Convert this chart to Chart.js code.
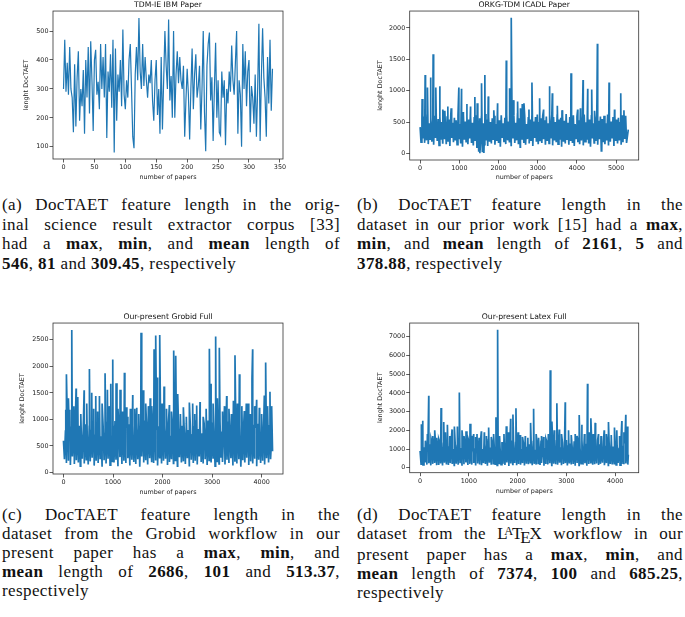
<!DOCTYPE html>
<html>
<head>
<meta charset="utf-8">
<script src="https://cdn.jsdelivr.net/npm/chart.js@4.4.1/dist/chart.umd.min.js"></script>
<style>
  body { margin: 0; background: #fff; width: 685px; height: 617px; position: relative; overflow: hidden; }
  canvas { position: absolute; }
  .cap { position: absolute; font-family: "Liberation Serif", "DejaVu Serif", serif; font-size: 17px; letter-spacing: 0.4px; color: #111; }
  .cap div { text-align: justify; text-align-last: justify; }
  .cap div.last { text-align-last: left; }
  .la { font-size: 0.72em; position: relative; top: -0.3em; margin-left: -0.32em; margin-right: -0.12em; }
  .te { position: relative; top: 0.22em; margin-left: -0.14em; margin-right: -0.1em; }
</style>
</head>
<body>
<canvas id="ca" width="342" height="185" style="left:0;top:0"></canvas>
<canvas id="cb" width="343" height="185" style="left:342px;top:0"></canvas>
<canvas id="cc" width="342" height="200" style="left:0;top:300px"></canvas>
<canvas id="cd" width="343" height="199" style="left:342px;top:300px"></canvas>

<div class="cap" style="left:2px;top:195px;width:338px;line-height:19.6px">
  <div>(a) DocTAET feature length in the orig-</div>
  <div>inal science result extractor corpus [33]</div>
  <div>had a <b>max</b>, <b>min</b>, and <b>mean</b> length of</div>
  <div class="last"><b>546</b>, <b>81</b> and <b>309.45</b>, respectively</div>
</div>
<div class="cap" style="left:357px;top:195px;width:326px;line-height:19.6px">
  <div>(b) DocTAET feature length in the</div>
  <div>dataset in our prior work [15] had a <b>max</b>,</div>
  <div><b>min</b>, and <b>mean</b> length of <b>2161</b>, <b>5</b> and</div>
  <div class="last"><b>378.88</b>, respectively</div>
</div>
<div class="cap" style="left:2px;top:505px;width:338px;line-height:19px">
  <div>(c) DocTAET feature length in the</div>
  <div>dataset from the Grobid workflow in our</div>
  <div>present paper has a <b>max</b>, <b>min</b>, and</div>
  <div><b>mean</b> length of <b>2686</b>, <b>101</b> and <b>513.37</b>,</div>
  <div class="last">respectively</div>
</div>
<div class="cap" style="left:357px;top:505px;width:326px;line-height:19px">
  <div>(d) DocTAET feature length in the</div>
  <div>dataset from the L<span class="la">A</span>T<span class="te">E</span>X workflow in our</div>
  <div>present paper has a <b>max</b>, <b>min</b>, and</div>
  <div><b>mean</b> length of <b>7374</b>, <b>100</b> and <b>685.25</b>,</div>
  <div class="last">respectively</div>
</div>

<script>
// (a) TDM-IE IBM paper, one value every 2 papers
const ibmStep = 2;
const ibmLengths = [
  300, 470, 290, 390, 280, 445, 300, 270, 150, 385, 170, 340, 430, 190, 300, 240, 365, 145, 400, 270,
  445, 215, 465, 330, 155, 400, 435, 280, 325, 230, 455, 300, 410, 270, 455, 130, 360, 290, 420, 235,
  470, 80, 440, 190, 350, 290, 400, 240, 505, 280, 230, 330, 270, 400, 455, 300, 135, 95, 350, 445,
  330, 545, 360, 300, 455, 310, 410, 330, 270, 350, 320, 400, 260, 190, 330, 400, 210, 300, 145, 410,
  160, 330, 500, 380, 300, 540, 260, 345, 200, 500, 200, 350, 430, 320, 410, 330, 300, 380, 135, 260,
  370, 280, 125, 300, 440, 230, 350, 420, 270, 310, 380, 160, 300, 500, 220, 85, 380, 455, 495, 260,
  340, 120, 300, 460, 200, 330, 150, 140, 360, 270, 330, 105, 300, 250, 360, 290, 450, 330, 280, 390,
  500, 145, 330, 280, 100, 455, 300, 430, 240, 360, 400, 150, 310, 270, 180, 350, 135, 300, 525, 120,
  340, 510, 340, 270, 135, 410, 250, 470, 225, 370
];

// (b) ORKG-TDM ICADL paper: dense band every 23 papers + the visible spikes
const icadlStep = 23;
const icadlBand = [
  420, 180, 560, 240, 590, 170, 520, 210, 610, 150, 480, 230, 570, 190, 530, 140, 600, 260, 470, 200,
  550, 130, 590, 220, 500, 170, 620, 240, 460, 150, 580, 200, 540, 120, 610, 250, 490, 180, 570, 210,
  530, 140, 600, 230, 470, 160, 560, 110, 620, 220, 510, 190, 580, 150, 540, 240, 600, 170, 490, 130,
  570, 200, 610, 90, 520, 30, 560, 160, 590, 20, 480, 140, 630, 210, 540, 120, 580, 190, 500, 160,
  560, 230, 600, 140, 470, 200, 590, 170, 530, 110, 610, 250, 480, 180, 570, 150, 620, 210, 510, 190,
  580, 130, 540, 240, 600, 170, 490, 210, 630, 150, 560, 100, 590, 220, 520, 180, 610, 140, 470, 230,
  570, 160, 540, 200, 600, 120, 510, 250, 580, 190, 620, 150, 490, 210, 560, 170, 600, 230, 530, 140,
  590, 200, 480, 160, 620, 240, 550, 130, 580, 210, 500, 180, 610, 150, 540, 220, 570, 110, 600, 190,
  520, 160, 630, 230, 490, 140, 580, 200, 550, 170, 610, 120, 470, 240, 590, 180, 530, 150, 600, 210,
  560, 130, 620, 190, 500, 220, 580, 160, 540, 110, 600, 240, 480, 170, 570, 200, 610, 140, 520, 230,
  590, 40, 550, 180, 600, 150, 480, 210, 620, 130, 560, 190, 510, 240, 580, 120, 600, 200, 540, 160,
  570, 210, 490, 140, 610, 180, 550, 230, 600, 170
];
const icadlSpikes = [
  [51, 870], [128, 1250], [187, 1050], [264, 1210], [332, 1580], [400, 1050], [502, 1070], [579, 700],
  [630, 680], [707, 750], [792, 720], [988, 1050], [1056, 1030], [1100, 660], [1192, 790], [1286, 750],
  [1397, 900], [1457, 800], [1525, 5], [1567, 1120], [1627, 10], [1652, 1250], [1738, 910], [1880, 690],
  [1976, 800], [2198, 1480], [2283, 1040], [2325, 2161], [2376, 850], [2487, 830], [2560, 720], [2606, 790],
  [2649, 800], [2777, 700], [2853, 1130], [3049, 880], [3150, 700], [3296, 1070], [3373, 960], [3501, 760],
  [3620, 690], [3850, 1280], [4020, 700], [4090, 720], [4157, 1170], [4276, 1030], [4378, 1020], [4450, 680],
  [4523, 1750], [4634, 50], [4821, 1130], [4960, 700], [5119, 960], [5200, 690], [5311, 380]
];

// (c) Our-present Grobid full
const grobidStep = 20;
const grobidBand = [
  600, 250, 780, 180, 900, 220, 700, 140, 850, 300, 680, 160, 940, 230, 760, 190, 880, 120, 720, 260,
  830, 170, 910, 240, 650, 150, 870, 210, 790, 280, 960, 130, 700, 220, 850, 180, 920, 250, 680, 110,
  890, 230, 760, 170, 940, 260, 820, 140, 700, 210, 880, 190, 970, 240, 740, 120, 860, 290, 800, 160,
  930, 220, 690, 180, 850, 270, 910, 130, 770, 240, 880, 200, 720, 160, 950, 250, 830, 110, 900, 300,
  760, 190, 980, 230, 840, 150, 920, 270, 710, 210, 890, 180, 960, 240, 800, 130, 870, 280, 940, 170,
  730, 220, 900, 260, 820, 140, 950, 200, 690, 250, 870, 170, 910, 230, 780, 120, 960, 290, 840, 190,
  880, 210, 750, 160, 930, 270, 800, 130, 900, 240, 710, 180, 860, 220, 970, 150, 820, 300, 890, 200,
  740, 170, 920, 250, 860, 140, 980, 230, 790, 190, 940, 260, 700, 120, 880, 210, 830, 160, 950, 280,
  770, 200, 900, 150, 850, 240, 960, 180, 720, 270, 890, 130, 930, 220, 800, 170, 870, 250, 910, 110,
  690, 230, 940, 190, 820, 280, 880, 140, 960, 210, 750, 170, 900, 260, 840, 120, 920, 240, 780, 180,
  950, 220, 860, 150, 900, 270, 730, 190, 880, 250, 620
];
const grobidSpikes = [
  [47, 1180], [60, 1850], [100, 1400], [128, 1180], [168, 2686], [210, 1250], [255, 1580], [289, 1420],
  [350, 1100], [417, 1550], [470, 1300], [524, 1950], [571, 1500], [610, 1200], [652, 1440], [690, 1150],
  [726, 1440], [780, 1300], [840, 1870], [887, 1560], [920, 1250], [955, 1670], [995, 2130], [1062, 1680],
  [1100, 1200], [1143, 1560], [1190, 1150], [1230, 1880], [1264, 1230], [1297, 1050], [1350, 1200], [1398, 1460],
  [1440, 1200], [1479, 1220], [1520, 1100], [1566, 2630], [1613, 1550], [1660, 1300], [1714, 1250], [1750, 1400],
  [1782, 1250], [1829, 2320], [1862, 2580], [1896, 1790], [1943, 2590], [1990, 1300], [2030, 1620], [2080, 1200],
  [2138, 1270], [2180, 1150], [2225, 2300], [2266, 2200], [2306, 1480], [2360, 1100], [2420, 1230], [2480, 1050],
  [2541, 1320], [2608, 1300], [2650, 1100], [2689, 1260], [2756, 1330], [2820, 1050], [2880, 1200], [2945, 2330],
  [2978, 1670], [3020, 1300], [3072, 2560], [3106, 1400], [3146, 2350], [3200, 1150], [3250, 1250], [3294, 1440],
  [3340, 1200], [3390, 1100], [3430, 1350], [3462, 2210], [3510, 1300], [3550, 1850], [3600, 1250], [3650, 1160],
  [3690, 1300], [3731, 1300], [3770, 1100], [3805, 1770], [3818, 2320], [3860, 1250], [3899, 1370], [3953, 1220],
  [4000, 1100], [4054, 1450], [4081, 2070], [4120, 1250], [4168, 1520], [4202, 1250], [4220, 400]
];

// (d) Our-present Latex full
const latexStep = 20;
const latexBand = [
  900, 200, 1300, 150, 1100, 280, 1450, 170, 1000, 240, 1250, 130, 1380, 210, 950, 260, 1200, 140, 1050, 190,
  1400, 230, 1150, 120, 1300, 270, 980, 180, 1350, 150, 1100, 250, 1450, 200, 1000, 130, 1280, 220, 1180, 160,
  1500, 240, 1050, 110, 1320, 190, 1200, 280, 970, 150, 1420, 210, 1130, 170, 1250, 260, 1040, 120, 1380, 230,
  1160, 180, 1450, 140, 1000, 250, 1300, 200, 1220, 110, 1500, 270, 1080, 160, 1350, 220, 1150, 190, 1420, 130,
  1250, 240, 1050, 170, 1380, 210, 1480, 150, 1120, 280, 1300, 100, 1200, 230, 1450, 180, 1020, 260, 1350, 140,
  1180, 200, 1420, 160, 1000, 250, 1300, 120, 1500, 220, 1080, 190, 1250, 270, 1150, 140, 1400, 210, 960, 170,
  1330, 230, 1100, 150, 1460, 260, 1200, 110, 1050, 200, 1380, 180, 1500, 240, 1160, 130, 1280, 220, 1020, 190,
  1440, 160, 1230, 270, 1100, 140, 1350, 210, 980, 250, 1480, 120, 1170, 230, 1300, 180, 1060, 200, 1420, 150,
  1200, 260, 1380, 130, 1040, 220, 1500, 170, 1150, 240, 1280, 110, 1450, 200, 1000, 280, 1330, 160, 1220, 190,
  1100, 230, 1470, 150, 1250, 210, 990, 270, 1400, 140, 1180, 250, 1320, 120, 1060, 200, 1480, 180, 1140, 220,
  1350, 160, 1230, 260, 1020, 140, 1460, 210, 1170, 190, 1300, 230, 950, 170
];
const latexSpikes = [
  [27, 2330], [55, 2520], [109, 1450], [150, 1800], [177, 3850], [225, 1550], [260, 1700], [300, 2000],
  [340, 1600], [382, 1550], [430, 3200], [485, 2450], [520, 1900], [560, 2300], [610, 1700], [655, 2050],
  [703, 2200], [765, 2200], [805, 4030], [860, 2000], [900, 1700], [942, 1950], [980, 1600], [1024, 2350],
  [1060, 1700], [1099, 1800], [1140, 1650], [1167, 1800], [1210, 1600], [1256, 1950], [1317, 1900], [1360, 1700],
  [1406, 2150], [1460, 1650], [1508, 1800], [1556, 2700], [1590, 7374], [1630, 1700], [1679, 1300], [1720, 1800],
  [1768, 2220], [1810, 1900], [1857, 2620], [1904, 2850], [1966, 3180], [2010, 1900], [2055, 1750], [2100, 1650],
  [2157, 1700], [2210, 1600], [2266, 2400], [2328, 3150], [2380, 1800], [2430, 1600], [2480, 1700], [2530, 1650],
  [2580, 1550], [2630, 1800], [2669, 5210], [2703, 2470], [2750, 2000], [2805, 3450], [2853, 2050], [2900, 1800],
  [2976, 3500], [3044, 2000], [3100, 1750], [3181, 1800], [3220, 1700], [3263, 2820], [3317, 2300], [3370, 1800],
  [3433, 4490], [3470, 1900], [3502, 2650], [3550, 1800], [3590, 2400], [3658, 1800], [3710, 1700], [3775, 2000],
  [3820, 1800], [3863, 2450], [3920, 1750], [3986, 2150], [4034, 2000], [4090, 1700], [4137, 2500], [4180, 1900],
  [4218, 2830], [4253, 2200], [4270, 700]
];

const ibmXTicks = [0, 50, 100, 150, 200, 250, 300, 350];
const ibmYTicks = [100, 200, 300, 400, 500];
const icadlXTicks = [0, 1000, 2000, 3000, 4000, 5000];
const icadlYTicks = [0, 500, 1000, 1500, 2000];
const grobidXTicks = [0, 1000, 2000, 3000, 4000];
const grobidYTicks = [0, 500, 1000, 1500, 2000, 2500];
const latexXTicks = [0, 1000, 2000, 3000, 4000];
const latexYTicks = [0, 1000, 2000, 3000, 4000, 5000, 6000, 7000];

function toPoints(band, step, spikes) {
  const pts = band.map((v, i) => ({ x: i * step, y: v }));
  spikes.forEach(([x, y]) => pts.push({ x, y }));
  return pts.sort((a, b) => a.x - b.x);
}

// matplotlib style full box round the axes
const framePlugin = {
  id: 'frame',
  afterDatasetsDraw(chart) {
    const { ctx, chartArea: a } = chart;
    ctx.save();
    ctx.strokeStyle = '#333';
    ctx.lineWidth = 0.8;
    ctx.strokeRect(a.left, a.top, a.right - a.left, a.bottom - a.top);
    ctx.restore();
  }
};

const tickFont = { family: 'DejaVu Sans', size: 6.4 };

function makeChart(id, points, o) {
  new Chart(document.getElementById(id), {
    type: 'line',
    data: {
      datasets: [{
        data: points,
        borderColor: '#1f77b4',
        borderWidth: o.lineWidth,
        pointRadius: 0,
        tension: 0,
        fill: false
      }]
    },
    options: {
      responsive: false,
      animation: false,
      events: [],
      layout: { padding: { left: o.padLeft, right: o.padRight, top: o.padTop, bottom: 0 } },
      plugins: {
        legend: { display: false },
        tooltip: { enabled: false },
        title: {
          display: true,
          text: o.title,
          fullSize: false,
          color: '#111',
          font: { family: 'DejaVu Sans', size: 7.7, weight: 'normal' },
          padding: { top: 0, bottom: 1.8 }
        }
      },
      scales: {
        x: {
          type: 'linear',
          min: o.xMin,
          max: o.xMax,
          afterBuildTicks: s => { s.ticks = o.xTicks.map(v => ({ value: v })); },
          afterFit: s => { s.height = o.xHeight; },
          grid: { drawOnChartArea: false, drawTicks: true, tickLength: 3.5, color: '#333', lineWidth: 0.8 },
          border: { display: false },
          ticks: { font: tickFont, color: '#222', padding: 1, maxRotation: 0, autoSkip: false, callback: v => String(v) },
          title: { display: true, text: 'number of papers', font: tickFont, color: '#222', padding: { top: 4, bottom: 4 } }
        },
        y: {
          type: 'linear',
          min: o.yMin,
          max: o.yMax,
          afterBuildTicks: s => { s.ticks = o.yTicks.map(v => ({ value: v })); },
          afterFit: s => { s.width = o.yWidth; },
          grid: { drawOnChartArea: false, drawTicks: true, tickLength: 3.5, color: '#333', lineWidth: 0.8 },
          border: { display: false },
          ticks: { font: tickFont, color: '#222', padding: 1, autoSkip: false, callback: v => String(v) },
          title: { display: true, text: 'lenght DocTAET', font: tickFont, color: '#222', padding: { top: 4, bottom: 4 } }
        }
      }
    },
    plugins: [framePlugin]
  });
}

makeChart('ca', ibmLengths.map((v, i) => ({ x: i * ibmStep, y: v })), {
  title: 'TDM-IE IBM Paper', xMin: -17, xMax: 355, yMin: 57.75, yMax: 569.25,
  xTicks: ibmXTicks, yTicks: ibmYTicks, lineWidth: 1.2,
  padLeft: 19, yWidth: 34, padRight: 59, padTop: 0, xHeight: 26
});
makeChart('cb', toPoints(icadlBand, icadlStep, icadlSpikes), {
  title: 'ORKG-TDM ICADL Paper', xMin: -266, xMax: 5577, yMin: -103, yMax: 2269,
  xTicks: icadlXTicks, yTicks: icadlYTicks, lineWidth: 1.7,
  padLeft: 30.2, yWidth: 37.5, padRight: 46.3, padTop: 0, xHeight: 25
});
makeChart('cc', toPoints(grobidBand, grobidStep, grobidSpikes), {
  title: 'Our-present Grobid Full', xMin: -211, xMax: 4431, yMin: -28.25, yMax: 2815.25,
  xTicks: grobidXTicks, yTicks: grobidYTicks, lineWidth: 1.7,
  padLeft: 14.9, yWidth: 38.1, padRight: 59, padTop: 12, xHeight: 26
});
makeChart('cd', toPoints(latexBand, latexStep, latexSpikes), {
  title: 'Our-present Latex Full', xMin: -213, xMax: 4483, yMin: -263.7, yMax: 7737.7,
  xTicks: latexXTicks, yTicks: latexYTicks, lineWidth: 1.7,
  padLeft: 30.2, yWidth: 37.5, padRight: 46.3, padTop: 12, xHeight: 26.3
});
</script>
</body>
</html>
